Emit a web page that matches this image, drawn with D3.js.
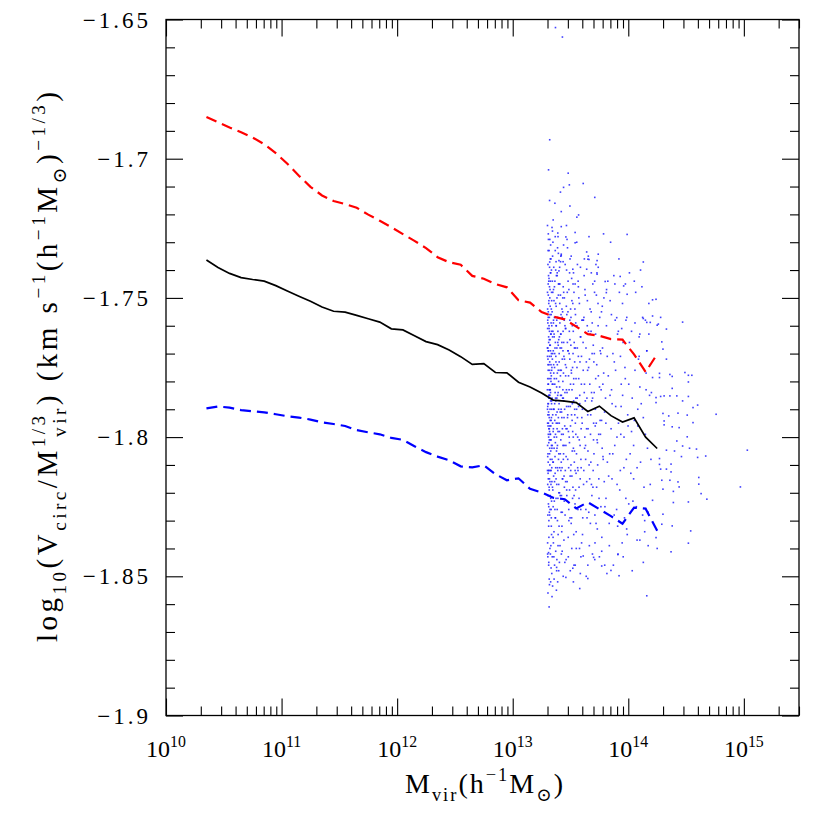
<!DOCTYPE html>
<html><head><meta charset="utf-8">
<script src="https://cdn.jsdelivr.net/npm/d3@7"></script>
<style>body{margin:0;background:#fff}svg{display:block}</style>
</head><body>
<svg id="chart" width="830" height="830"></svg>
<script>
// ---- data ----
const logMass = [10.35,10.45,10.55,10.65,10.75,10.85,10.95,11.05,11.15,11.25,11.35,11.45,11.55,11.65,11.75,11.85,11.95,12.05,12.15,12.25,12.35,12.45,12.55,12.65,12.75,12.85,12.95,13.05,13.15,13.25,13.35,13.45,13.55,13.65,13.75,13.85,13.95,14.05,14.15,14.25];
const medianV = [-1.7364,-1.7391,-1.7412,-1.7427,-1.7434,-1.7440,-1.7456,-1.7475,-1.7494,-1.7512,-1.7533,-1.7548,-1.7551,-1.7563,-1.7575,-1.7587,-1.7611,-1.7615,-1.7636,-1.7657,-1.7668,-1.7687,-1.7711,-1.7739,-1.7736,-1.7768,-1.7769,-1.7803,-1.7820,-1.7842,-1.7867,-1.7871,-1.7876,-1.7908,-1.7889,-1.7923,-1.7946,-1.7931,-1.8000,-1.8041];
const upperV = [-1.6850,-1.6869,-1.6888,-1.6905,-1.6924,-1.6948,-1.6980,-1.7018,-1.7061,-1.7101,-1.7132,-1.7152,-1.7163,-1.7176,-1.7201,-1.7223,-1.7246,-1.7271,-1.7295,-1.7321,-1.7354,-1.7372,-1.7381,-1.7421,-1.7431,-1.7450,-1.7462,-1.7508,-1.7517,-1.7551,-1.7567,-1.7577,-1.7603,-1.7630,-1.7636,-1.7648,-1.7650,-1.7703,-1.7766,-1.7702];
const lowerV = [-1.7897,-1.7890,-1.7894,-1.7903,-1.7907,-1.7911,-1.7918,-1.7925,-1.7930,-1.7937,-1.7947,-1.7953,-1.7960,-1.7975,-1.7983,-1.7990,-1.8003,-1.8010,-1.8033,-1.8054,-1.8070,-1.8083,-1.8105,-1.8109,-1.8101,-1.8133,-1.8155,-1.8148,-1.8186,-1.8199,-1.8218,-1.8223,-1.8256,-1.8234,-1.8259,-1.8284,-1.8311,-1.8253,-1.8257,-1.8336];

// individual haloes: [log10 Mvir, log10(Vcirc/Mvir^1/3)]
const haloPointsA = [
[13.301,-1.748],[13.302,-1.761],[13.303,-1.779],[13.304,-1.792],[13.305,-1.806],[13.306,-1.821],[13.307,-1.769],[13.308,-1.755],[13.309,-1.788],[13.310,-1.812],[13.311,-1.832],[13.312,-1.744],[13.313,-1.797],[13.314,-1.774],[13.315,-1.783],[13.316,-1.765],[13.317,-1.801],[13.318,-1.815],[13.319,-1.739],[13.320,-1.828],[13.301,-1.790],[13.303,-1.758],[13.305,-1.772],[13.307,-1.809],[13.309,-1.795],[13.311,-1.764],[13.313,-1.751],[13.315,-1.818],[13.317,-1.786],[13.319,-1.776],[13.302,-1.838],[13.304,-1.768],[13.306,-1.781],[13.308,-1.799],[13.310,-1.742],[13.312,-1.825],[13.314,-1.760],[13.316,-1.793],[13.318,-1.771],[13.320,-1.804],[13.322,-1.785],[13.324,-1.753],[13.326,-1.812],[13.328,-1.777],[13.330,-1.796],[13.332,-1.763],[13.334,-1.829],[13.336,-1.748],[13.338,-1.790],[13.340,-1.808],[13.321,-1.767],[13.323,-1.799],[13.325,-1.783],[13.327,-1.741],[13.329,-1.822],[13.331,-1.774],[13.333,-1.756],[13.335,-1.803],[13.337,-1.787],[13.339,-1.816],[13.301,-1.724],[13.306,-1.733],[13.311,-1.846],[13.316,-1.851],[13.321,-1.729],[13.326,-1.842],[13.331,-1.736],[13.336,-1.835],[13.304,-1.843],[13.309,-1.729],[13.314,-1.812],[13.324,-1.794],[13.334,-1.778],[13.302,-1.803],[13.312,-1.786],[13.322,-1.816],[13.332,-1.801],[13.307,-1.745],[13.317,-1.757],[13.327,-1.769],[13.337,-1.762],[13.303,-1.817],[13.313,-1.830],[13.323,-1.747],[13.333,-1.826],[13.305,-1.856],[13.319,-1.715],[13.328,-1.852],[13.310,-1.704],[13.315,-1.861],
[13.342,-1.781],[13.345,-1.795],[13.348,-1.762],[13.351,-1.809],[13.354,-1.774],[13.357,-1.751],[13.360,-1.823],[13.363,-1.788],[13.366,-1.768],[13.369,-1.802],[13.372,-1.740],[13.375,-1.815],[13.378,-1.779],[13.381,-1.758],[13.384,-1.797],[13.387,-1.830],[13.390,-1.766],[13.393,-1.784],[13.396,-1.745],[13.399,-1.806],[13.402,-1.773],[13.405,-1.820],[13.408,-1.759],[13.411,-1.791],[13.414,-1.737],[13.417,-1.812],[13.420,-1.776],[13.423,-1.799],[13.426,-1.754],[13.429,-1.827],[13.432,-1.786],[13.435,-1.769],[13.438,-1.808],[13.441,-1.748],[13.444,-1.793],[13.447,-1.818],[13.343,-1.744],[13.349,-1.836],[13.355,-1.790],[13.361,-1.757],[13.367,-1.813],[13.373,-1.771],[13.379,-1.800],[13.385,-1.742],[13.391,-1.822],[13.397,-1.780],[13.403,-1.795],[13.409,-1.839],[13.415,-1.763],[13.421,-1.785],[13.427,-1.811],[13.433,-1.750],[13.439,-1.777],[13.445,-1.803],[13.346,-1.770],[13.352,-1.759],[13.358,-1.804],[13.364,-1.781],[13.370,-1.829],[13.376,-1.753],[13.382,-1.786],[13.388,-1.811],[13.394,-1.767],[13.400,-1.745],[13.406,-1.782],[13.412,-1.806],[13.418,-1.756],[13.424,-1.834],[13.430,-1.797],[13.436,-1.762],[13.442,-1.787],[13.448,-1.772],[13.344,-1.726],[13.356,-1.843],[13.368,-1.733],[13.380,-1.848],[13.392,-1.728],[13.404,-1.845],[13.416,-1.735],[13.428,-1.841],[13.440,-1.731],[13.350,-1.798],[13.362,-1.775],[13.374,-1.792],[13.386,-1.777],[13.398,-1.817],[13.410,-1.768],[13.422,-1.821],[13.434,-1.783],[13.446,-1.758],[13.347,-1.819],[13.359,-1.764],[13.371,-1.786],[13.383,-1.804],[13.395,-1.793],[13.407,-1.752],[13.419,-1.790],[13.431,-1.815],[13.443,-1.837],[13.353,-1.747],[13.365,-1.826],[13.377,-1.760],[13.389,-1.795],[13.401,-1.832],[13.413,-1.778],[13.425,-1.766],[13.437,-1.799],[13.365,-1.716],[13.389,-1.852],[13.413,-1.712],[13.437,-1.850],[13.350,-1.722],[13.420,-1.719],
[13.452,-1.784],[13.456,-1.761],[13.460,-1.803],[13.464,-1.775],[13.468,-1.821],[13.472,-1.748],[13.476,-1.792],[13.480,-1.769],[13.484,-1.811],[13.488,-1.783],[13.492,-1.741],[13.496,-1.829],[13.500,-1.796],[13.504,-1.757],[13.508,-1.777],[13.512,-1.814],[13.516,-1.788],[13.520,-1.752],[13.524,-1.800],[13.528,-1.835],[13.532,-1.766],[13.536,-1.790],[13.540,-1.745],[13.544,-1.819],[13.548,-1.779],[13.552,-1.806],[13.556,-1.760],[13.560,-1.793],[13.564,-1.826],[13.568,-1.771],[13.572,-1.750],[13.576,-1.801],[13.580,-1.785],[13.584,-1.815],[13.588,-1.764],[13.592,-1.797],[13.596,-1.838],[13.454,-1.738],[13.462,-1.844],[13.470,-1.797],[13.478,-1.755],[13.486,-1.830],[13.494,-1.772],[13.502,-1.812],[13.510,-1.743],[13.518,-1.822],[13.526,-1.781],[13.534,-1.805],[13.542,-1.768],[13.550,-1.840],[13.558,-1.786],[13.566,-1.744],[13.574,-1.818],[13.582,-1.773],[13.590,-1.808],[13.598,-1.758],[13.458,-1.816],[13.466,-1.789],[13.474,-1.732],[13.482,-1.798],[13.490,-1.762],[13.498,-1.848],[13.506,-1.735],[13.514,-1.794],[13.522,-1.770],[13.530,-1.846],[13.538,-1.754],[13.546,-1.799],[13.554,-1.730],[13.562,-1.811],[13.570,-1.789],[13.578,-1.840],[13.586,-1.739],[13.594,-1.781],[13.465,-1.724],[13.495,-1.717],[13.525,-1.852],[13.555,-1.721],[13.585,-1.849],
[13.603,-1.790],[13.609,-1.766],[13.615,-1.812],[13.621,-1.781],[13.627,-1.749],[13.633,-1.826],[13.639,-1.797],[13.645,-1.760],[13.651,-1.805],[13.657,-1.775],[13.663,-1.839],[13.669,-1.754],[13.675,-1.792],[13.681,-1.817],[13.687,-1.770],[13.693,-1.745],[13.699,-1.801],[13.705,-1.784],[13.711,-1.828],[13.717,-1.763],[13.723,-1.795],[13.729,-1.741],[13.735,-1.810],[13.741,-1.778],[13.747,-1.822],[13.753,-1.757],[13.759,-1.799],[13.765,-1.783],[13.771,-1.836],[13.777,-1.768],[13.783,-1.808],[13.789,-1.750],[13.795,-1.791],[13.606,-1.829],[13.618,-1.742],[13.630,-1.803],[13.642,-1.786],[13.654,-1.735],[13.666,-1.815],[13.678,-1.762],[13.690,-1.842],[13.702,-1.773],[13.714,-1.796],[13.726,-1.818],[13.738,-1.752],[13.750,-1.843],[13.762,-1.770],[13.774,-1.804],[13.786,-1.727],[13.798,-1.825],[13.612,-1.758],[13.636,-1.850],[13.660,-1.728],[13.684,-1.787],[13.708,-1.748],[13.732,-1.833],[13.756,-1.794],[13.780,-1.781],[13.796,-1.846],[13.624,-1.800],[13.648,-1.776],[13.672,-1.831],[13.696,-1.812],[13.720,-1.738],[13.744,-1.799],[13.768,-1.755],[13.792,-1.816],
[13.803,-1.786],[13.811,-1.760],[13.819,-1.809],[13.827,-1.778],[13.835,-1.831],[13.843,-1.751],[13.851,-1.797],[13.859,-1.815],[13.867,-1.770],[13.875,-1.742],[13.883,-1.803],[13.891,-1.789],[13.899,-1.826],[13.907,-1.763],[13.915,-1.795],[13.923,-1.748],[13.931,-1.812],[13.939,-1.781],[13.947,-1.838],[13.955,-1.766],[13.963,-1.800],[13.971,-1.775],[13.979,-1.822],[13.987,-1.757],[13.995,-1.792],[13.807,-1.822],[13.823,-1.744],[13.839,-1.806],[13.855,-1.783],[13.871,-1.846],[13.887,-1.758],[13.903,-1.817],[13.919,-1.736],[13.935,-1.799],[13.951,-1.785],[13.967,-1.829],[13.983,-1.808],[13.815,-1.849],[13.847,-1.730],[13.879,-1.773],[13.911,-1.842],[13.943,-1.761],[13.975,-1.745],[13.991,-1.835],
[14.004,-1.781],[14.016,-1.806],[14.028,-1.762],[14.040,-1.823],[14.052,-1.794],[14.064,-1.748],[14.076,-1.811],[14.088,-1.772],[14.100,-1.837],[14.112,-1.788],[14.124,-1.757],[14.136,-1.818],[14.148,-1.799],[14.160,-1.769],[14.172,-1.827],[14.184,-1.785],[14.196,-1.808],[14.010,-1.741],[14.034,-1.848],[14.058,-1.776],[14.082,-1.796],[14.106,-1.740],[14.130,-1.845],[14.154,-1.783],[14.178,-1.752],[14.046,-1.815],[14.094,-1.764],[14.142,-1.830],[14.190,-1.774]
];
const haloPointsB = [
[13.300,-1.783],[13.301,-1.771],[13.302,-1.795],[13.303,-1.807],[13.304,-1.759],[13.305,-1.788],[13.306,-1.813],[13.307,-1.776],[13.308,-1.749],[13.309,-1.824],[13.310,-1.791],[13.311,-1.766],[13.312,-1.802],[13.313,-1.785],[13.314,-1.743],[13.315,-1.779],[13.316,-1.819],[13.317,-1.797],[13.318,-1.762],[13.319,-1.806],
[13.300,-1.768],[13.301,-1.812],[13.302,-1.754],[13.303,-1.789],[13.304,-1.828],[13.305,-1.774],[13.306,-1.796],[13.307,-1.757],[13.308,-1.815],[13.309,-1.781],[13.310,-1.769],[13.311,-1.800],[13.312,-1.752],[13.313,-1.836],[13.314,-1.792],[13.315,-1.761],[13.316,-1.785],[13.317,-1.827],[13.318,-1.746],[13.319,-1.798],
[13.320,-1.773],[13.321,-1.810],[13.322,-1.756],[13.323,-1.790],[13.324,-1.821],[13.325,-1.767],[13.326,-1.801],[13.327,-1.784],[13.328,-1.741],[13.329,-1.805],[13.330,-1.779],[13.331,-1.817],[13.332,-1.759],[13.333,-1.794],[13.334,-1.832],[13.335,-1.770],[13.336,-1.788],[13.337,-1.751],[13.338,-1.811],[13.339,-1.775],
[13.320,-1.796],[13.321,-1.750],[13.322,-1.783],[13.323,-1.826],[13.324,-1.765],[13.325,-1.808],[13.326,-1.744],[13.327,-1.799],[13.328,-1.787],[13.329,-1.763],[13.330,-1.839],[13.331,-1.780],[13.332,-1.812],[13.333,-1.771],[13.334,-1.754],[13.335,-1.793],[13.336,-1.823],[13.337,-1.776],[13.338,-1.760],[13.339,-1.804],
[13.340,-1.786],[13.341,-1.755],[13.342,-1.803],[13.343,-1.772],[13.344,-1.818],[13.345,-1.764],[13.346,-1.792],[13.347,-1.748],[13.348,-1.809],[13.349,-1.781],[13.350,-1.825],[13.351,-1.769],[13.352,-1.797],[13.353,-1.758],[13.354,-1.814],[13.355,-1.777],[13.356,-1.790],[13.357,-1.834],[13.358,-1.763],[13.359,-1.800],
[13.360,-1.779],[13.361,-1.746],[13.362,-1.816],[13.363,-1.770],[13.364,-1.794],[13.365,-1.757],[13.366,-1.807],[13.367,-1.784],[13.368,-1.829],[13.369,-1.766],[13.370,-1.799],[13.371,-1.752],[13.372,-1.811],[13.373,-1.787],[13.374,-1.773],[13.375,-1.822],[13.376,-1.760],[13.377,-1.795],[13.378,-1.742],[13.379,-1.805],
[13.380,-1.782],[13.381,-1.817],[13.382,-1.768],[13.383,-1.750],[13.384,-1.791],[13.385,-1.826],[13.386,-1.774],[13.387,-1.803],[13.388,-1.757],[13.389,-1.785],[13.390,-1.812],[13.391,-1.762],[13.392,-1.798],[13.393,-1.835],[13.394,-1.776],[13.395,-1.749],[13.396,-1.808],[13.397,-1.790],[13.398,-1.765],[13.399,-1.820],
[13.305,-1.738],[13.315,-1.733],[13.325,-1.736],[13.335,-1.740],[13.345,-1.735],[13.355,-1.739],[13.365,-1.744],[13.375,-1.737],[13.385,-1.741],[13.395,-1.734],
[13.302,-1.842],[13.312,-1.845],[13.322,-1.840],[13.332,-1.847],[13.342,-1.843],[13.352,-1.838],[13.362,-1.846],[13.372,-1.841],[13.382,-1.844],[13.392,-1.839],
[13.308,-1.727],[13.318,-1.853],[13.328,-1.731],[13.338,-1.849],[13.348,-1.730],[13.358,-1.851],[13.368,-1.728],[13.378,-1.855],[13.388,-1.732],[13.398,-1.848],
[13.401,-1.788],[13.404,-1.764],[13.407,-1.811],[13.410,-1.776],[13.413,-1.749],[13.416,-1.801],[13.419,-1.827],[13.422,-1.768],[13.425,-1.793],[13.428,-1.757],[13.431,-1.815],[13.434,-1.780],[13.437,-1.746],[13.440,-1.806],[13.443,-1.771],[13.446,-1.823],[13.449,-1.790],[13.452,-1.760],[13.455,-1.812],[13.458,-1.778],
[13.461,-1.797],[13.464,-1.753],[13.467,-1.819],[13.470,-1.784],[13.473,-1.766],[13.476,-1.808],[13.479,-1.744],[13.482,-1.789],[13.485,-1.826],[13.488,-1.770],[13.491,-1.802],[13.494,-1.758],[13.497,-1.814],[13.500,-1.781],[13.503,-1.767],[13.506,-1.831],[13.509,-1.792],[13.512,-1.751],[13.515,-1.805],[13.518,-1.775],
[13.521,-1.818],[13.524,-1.762],[13.527,-1.787],[13.530,-1.748],[13.533,-1.809],[13.536,-1.773],[13.539,-1.824],[13.542,-1.795],[13.545,-1.759],[13.548,-1.813],
[13.402,-1.770],[13.405,-1.798],[13.408,-1.745],[13.411,-1.821],[13.414,-1.785],[13.417,-1.763],[13.420,-1.809],[13.423,-1.791],[13.426,-1.832],[13.429,-1.772],[13.432,-1.755],[13.435,-1.803],[13.438,-1.786],[13.441,-1.766],[13.444,-1.814],[13.447,-1.750],[13.450,-1.796],[13.453,-1.828],[13.456,-1.774],[13.459,-1.761],
[13.462,-1.807],[13.465,-1.783],[13.468,-1.756],[13.471,-1.816],[13.474,-1.793],[13.477,-1.769],[13.480,-1.836],[13.483,-1.778],[13.486,-1.747],[13.489,-1.800],[13.492,-1.819],[13.495,-1.765],[13.498,-1.789],[13.501,-1.754],[13.504,-1.810],[13.507,-1.776],[13.510,-1.829],[13.513,-1.783],[13.516,-1.760],[13.519,-1.798],
[13.522,-1.745],[13.525,-1.804],[13.528,-1.779],[13.531,-1.821],[13.534,-1.768],[13.537,-1.792],[13.540,-1.812],[13.543,-1.756],[13.546,-1.786],[13.549,-1.834],
[13.406,-1.739],[13.421,-1.842],[13.436,-1.737],[13.451,-1.845],[13.466,-1.740],[13.481,-1.843],[13.496,-1.736],[13.511,-1.840],[13.526,-1.741],[13.541,-1.846]
];
const haloPointsC = [
[13.553,-1.790],[13.559,-1.768],[13.565,-1.812],[13.571,-1.779],[13.577,-1.752],[13.583,-1.803],[13.589,-1.826],[13.595,-1.771],[13.601,-1.795],[13.607,-1.758],[13.613,-1.817],[13.619,-1.784],[13.625,-1.747],[13.631,-1.808],[13.637,-1.773],[13.643,-1.829],[13.649,-1.792],[13.655,-1.762],[13.661,-1.810],[13.667,-1.781],
[13.673,-1.799],[13.679,-1.755],[13.685,-1.821],[13.691,-1.786],[13.697,-1.767],[13.703,-1.806],[13.709,-1.744],[13.715,-1.790],[13.721,-1.831],[13.727,-1.774],[13.733,-1.802],[13.739,-1.760],[13.745,-1.815],[13.751,-1.782],[13.757,-1.769],[13.763,-1.825],[13.769,-1.794],[13.775,-1.753],[13.781,-1.807],[13.787,-1.777],
[13.556,-1.775],[13.562,-1.800],[13.568,-1.746],[13.574,-1.822],[13.580,-1.788],[13.586,-1.764],[13.592,-1.811],[13.598,-1.793],[13.604,-1.835],[13.610,-1.776],[13.616,-1.757],[13.622,-1.804],[13.628,-1.787],[13.634,-1.768],[13.640,-1.816],[13.646,-1.751],[13.652,-1.797],[13.658,-1.827],[13.664,-1.772],[13.670,-1.763],
[13.676,-1.809],[13.682,-1.784],[13.688,-1.759],[13.694,-1.818],[13.700,-1.795],[13.706,-1.770],[13.712,-1.838],[13.718,-1.779],[13.724,-1.749],[13.730,-1.801],
[13.560,-1.738],[13.590,-1.843],[13.620,-1.736],[13.650,-1.846],[13.680,-1.741],[13.710,-1.844],[13.740,-1.739],[13.770,-1.841],
[13.806,-1.795],[13.818,-1.771],[13.830,-1.814],[13.842,-1.785],[13.854,-1.756],[13.866,-1.806],[13.878,-1.828],[13.890,-1.776],[13.902,-1.800],[13.914,-1.762],[13.926,-1.819],[13.938,-1.789],[13.950,-1.752],[13.962,-1.811],[13.974,-1.779],[13.986,-1.833],[13.998,-1.796],[14.010,-1.766],[14.022,-1.813],[14.034,-1.786],
[14.046,-1.803],[14.058,-1.759],[14.070,-1.825],[14.082,-1.790],[14.094,-1.771],[14.106,-1.809],[14.118,-1.746],[14.130,-1.793],[14.142,-1.834],[14.154,-1.777],[14.166,-1.804],[14.178,-1.763],[14.190,-1.817],
[13.812,-1.747],[13.836,-1.839],[13.860,-1.788],[13.884,-1.745],[13.908,-1.832],[13.932,-1.771],[13.956,-1.843],[13.980,-1.758],[14.004,-1.824],[14.028,-1.798],[14.052,-1.744],[14.076,-1.837],[14.100,-1.782],[14.124,-1.828],[14.148,-1.758],[14.172,-1.839]
];
const haloOutliers = [
[13.37,-1.6529],[13.43,-1.6563],[13.32,-1.6932],[13.48,-1.7052],[13.49,-1.7094],[13.61,-1.7089],[13.44,-1.7103],[13.71,-1.7139],[13.57,-1.7202],[13.34,-1.7247],[13.42,-1.7244],[13.39,-1.7267],[13.54,-1.7265],[13.46,-1.7281],[13.47,-1.7290],[13.54,-1.7302],[13.99,-1.7272],[13.64,-1.7335],[13.42,-1.7348],[13.32,-1.7371],[13.40,-1.7366],[13.66,-1.7362],[13.73,-1.7366],[14.13,-1.7371],
[14.21,-1.7507],[14.16,-1.7588],[14.21,-1.7565],[14.28,-1.7570],[14.25,-1.7598],[14.47,-1.7587],[14.29,-1.7658],[14.30,-1.7684],[14.16,-1.7690],[14.21,-1.7786],[14.27,-1.7771],[14.27,-1.7786],[14.36,-1.7775],[14.38,-1.7782],[14.49,-1.7768],[14.52,-1.7778],[14.55,-1.7778],[14.52,-1.7802],[14.38,-1.7825],[14.20,-1.7840],[14.24,-1.7858],[14.28,-1.7854],[14.36,-1.7852],[14.42,-1.7852],[14.47,-1.7870],[14.52,-1.7854],[14.60,-1.7885],[14.56,-1.7894],[14.76,-1.7918],[14.30,-1.7915],[14.43,-1.7914],[14.51,-1.7921],[14.56,-1.7948],[14.31,-1.7942],[14.31,-1.7956],[14.38,-1.7963],[14.44,-1.7966],[14.51,-1.7999],[14.42,-1.8014],[14.47,-1.8032],[14.53,-1.8040],[14.40,-1.8050],[14.33,-1.8047],[15.03,-1.8047],[14.59,-1.8043],[14.67,-1.8068],[14.60,-1.8073],[14.46,-1.8070],[14.27,-1.8077],[14.27,-1.8098],[14.37,-1.8097],[14.33,-1.8115],[14.28,-1.8115],[14.37,-1.8125],[14.29,-1.8155],[14.36,-1.8155],[14.43,-1.8161],[14.61,-1.8145],[14.61,-1.8169],[14.63,-1.8203],[14.44,-1.8179],[14.97,-1.8179],[14.30,-1.8187],[14.39,-1.8195],[14.68,-1.8223],[14.39,-1.8235],[14.52,-1.8233],[14.21,-1.8227],[14.30,-1.8277],[14.29,-1.8313],[14.38,-1.8319],[14.54,-1.8337],[14.24,-1.8361],[14.52,-1.8381],[14.25,-1.8400],[14.37,-1.8412],
[13.34,-1.8573],[13.345,-1.8535],[13.58,-1.8544],[14.16,-1.8570],[13.52,-1.8471],[13.46,-1.8504],[13.31,-1.8415],[13.38,-1.8468],[13.77,-1.8463],[13.85,-1.8479],[13.92,-1.8498],[13.65,-1.8508],[13.70,-1.8432],[13.91,-1.8422],[13.61,-1.8427],
[13.90,-1.7571],[14.19,-1.7588],[14.26,-1.7594],[14.24,-1.7505],[13.96,-1.7457],[13.80,-1.7441],[13.81,-1.7481],[13.99,-1.7487],[13.93,-1.7423],[13.73,-1.7415],[13.64,-1.7397],[13.52,-1.7397],[13.65,-1.7361],[13.42,-1.7343],[13.40,-1.7403],[13.74,-1.7343],[14.13,-1.7574],[14.10,-1.7630],[14.33,-1.7612],[14.33,-1.7720],[14.31,-1.7852],[14.35,-1.7924],[14.24,-1.7876]
];

const xMajorTicks = [1e10,1e11,1e12,1e13,1e14,1e15];
const xTickExponents = ["10","11","12","13","14","15"];
const yMajorTicks = [-1.65,-1.7,-1.75,-1.8,-1.85,-1.9];
const yTickLabels = ["\u22121.65","\u22121.7","\u22121.75","\u22121.8","\u22121.85","\u22121.9"];

// ---- drawing ----
const svg = d3.select("#chart");
const FONT = "'Liberation Serif', 'DejaVu Serif', serif";
const L = 166, R = 799, T = 19.5, B = 715.5;
const x = d3.scaleLog().domain([1e10, 3e15]).range([L, R]);
const y = d3.scaleLinear().domain([-1.9, -1.65]).range([B, T]);

const xMinor = x.ticks().filter(v => !xMajorTicks.some(m => Math.abs(m - v) / m < 1e-6));
const yMinor = y.ticks(25).filter(v => !yMajorTicks.some(m => Math.abs(m - v) < 1e-6));

// scatter
const allHaloes = haloPointsA.concat(haloPointsB, haloPointsC, haloOutliers);
svg.append("g").selectAll("rect").data(allHaloes).join("rect")
  .attr("x", d => x(Math.pow(10, d[0])) - 0.8)
  .attr("y", d => y(d[1]) - 0.8)
  .attr("width", 1.6).attr("height", 1.6)
  .attr("fill", "#1f1fff").attr("opacity", 0.85);

// curves
const line = d3.line().x(d => x(Math.pow(10, d[0]))).y(d => y(d[1]));
const mk = arr => logMass.map((m, i) => [m, arr[i]]);
svg.append("path").datum(mk(upperV)).attr("d", line).attr("fill", "none")
  .attr("stroke", "#ff0000").attr("stroke-width", 2.2).attr("stroke-dasharray", "11,6");
svg.append("path").datum(mk(lowerV)).attr("d", line).attr("fill", "none")
  .attr("stroke", "#0000ff").attr("stroke-width", 2.2).attr("stroke-dasharray", "11,6");
svg.append("path").datum(mk(medianV)).attr("d", line).attr("fill", "none")
  .attr("stroke", "#000").attr("stroke-width", 1.7);

// axes ticks (inward, all four sides)
function tickAxis(axisFn, scale, vals, size, tr) {
  const g = svg.append("g").attr("transform", tr)
    .call(axisFn(scale).tickValues(vals).tickSize(-size).tickFormat(""));
  g.select(".domain").remove();
  g.selectAll("line").attr("stroke", "#000").attr("stroke-width", 1.1);
}
tickAxis(d3.axisBottom, x, xMajorTicks, 17, `translate(0,${B})`);
tickAxis(d3.axisBottom, x, xMinor, 9, `translate(0,${B})`);
tickAxis(d3.axisTop, x, xMajorTicks, 17, `translate(0,${T})`);
tickAxis(d3.axisTop, x, xMinor, 9, `translate(0,${T})`);
tickAxis(d3.axisLeft, y, yMajorTicks, 17, `translate(${L},0)`);
tickAxis(d3.axisLeft, y, yMinor, 9, `translate(${L},0)`);
tickAxis(d3.axisRight, y, yMajorTicks, 17, `translate(${R},0)`);
tickAxis(d3.axisRight, y, yMinor, 9, `translate(${R},0)`);

svg.append("rect").attr("x", L).attr("y", T).attr("width", R - L).attr("height", B - T)
  .attr("fill", "none").attr("stroke", "#000").attr("stroke-width", 1.3);

// y tick labels
svg.append("g").selectAll("text").data(yMajorTicks).join("text")
  .attr("x", 151).attr("y", d => y(d)).attr("dy", "0.35em")
  .attr("text-anchor", "end").attr("font-family", FONT).attr("font-size", 23)
  .attr("letter-spacing", 3)
  .text((d, i) => yTickLabels[i]);

// rich text helper
function rich(textSel, parts, base) {
  let shift = 0;
  const nodes = [];
  parts.forEach(p => {
    const ts = textSel.append("tspan").text(p.t);
    let target = 0, size = base;
    if (p.k === "sub") { target = base * 0.3; size = base * 0.66; }
    if (p.k === "sup") { target = -base * 0.42; size = base * 0.66; }
    ts.attr("font-size", size).attr("dy", target - shift);
    shift = target;
    nodes.push(ts);
  });
  parts.forEach((p, i) => {
    if (p.under != null) {
      const w = nodes[p.under].node().getComputedTextLength();
      nodes[i].attr("dx", -w);
    }
  });
}

// x tick labels
xMajorTicks.forEach((v, i) => {
  const t = svg.append("text").attr("x", x(v)).attr("y", 757)
    .attr("text-anchor", "middle").attr("font-family", FONT).attr("font-size", 24);
  rich(t, [{t: "10"}, {t: xTickExponents[i], k: "sup"}], 24);
});

// x title
const xt = svg.append("text").attr("x", 484).attr("y", 793)
  .attr("text-anchor", "middle").attr("font-family", FONT).attr("font-size", 28)
  .attr("textLength", 158).attr("lengthAdjust", "spacing");
rich(xt, [{t: "M"}, {t: "vir", k: "sub"}, {t: "(h"}, {t: "\u22121", k: "sup"}, {t: "M"}, {t: "\u2299", k: "sub"}, {t: ")"}], 28);

// y title
const yt = svg.append("text").attr("transform", "translate(57,367) rotate(-90)")
  .attr("text-anchor", "middle").attr("font-family", FONT).attr("font-size", 29)
  .attr("textLength", 550).attr("lengthAdjust", "spacing");
rich(yt, [
  {t: "log"}, {t: "10", k: "sub"}, {t: "(V"}, {t: "circ", k: "sub"}, {t: "/M"},
  {t: "1/3", k: "sup"}, {t: "vir", k: "sub", under: 5},
  {t: ")  (km  s"}, {t: "\u22121", k: "sup"}, {t: "(h"}, {t: "\u22121", k: "sup"},
  {t: "M"}, {t: "\u2299", k: "sub"}, {t: ")"}, {t: "\u22121/3", k: "sup"}, {t: ")"}
], 29);
</script>
</body></html>
